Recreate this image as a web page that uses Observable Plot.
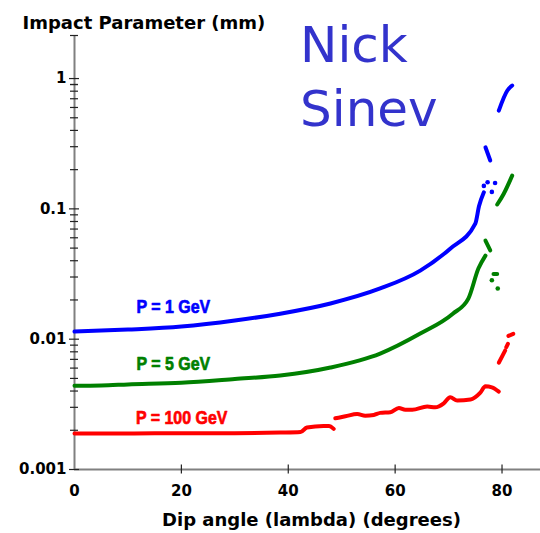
<!DOCTYPE html>
<html><head><meta charset="utf-8">
<script src="https://cdn.jsdelivr.net/npm/d3@7"></script>
<script src="https://cdn.jsdelivr.net/npm/@observablehq/plot@0.6"></script>
<style>
html,body{margin:0;padding:0;background:#fff;}
#chart{width:540px;height:533px;}
</style></head><body><div id="chart"></div>
<script>
// ---- data (dip angle in degrees, impact parameter in mm) ----
const blueSegments = [
  [[0,0.01143],[10,0.01185],[20,0.0125],[30,0.0139],[38.5,0.0157],[47.9,0.0188],[57.2,0.0245],[64.7,0.0336],[70.3,0.0495],[75.0,0.077],[75.7,0.105],[76.6,0.134]],
  [[76.9,0.297],[77.8,0.235]],
  [[79.4,0.568],[81.0,0.81],[81.9,0.884]]
];
const blueDots = [[76.6,0.15],[77.3,0.16],[78.1,0.135],[78.7,0.158]];

const greenSegments = [
  [[0,0.0044],[5,0.00442],[10,0.0045],[20,0.00464],[30,0.00495],[38.5,0.00526],[47.9,0.00606],[57.2,0.00775],[64.7,0.01104],[70.8,0.0157],[73.7,0.0205],[75.6,0.035],[76.9,0.0438]],
  [[76.9,0.0571],[77.8,0.048]],
  [[78.4,0.0316],[79.1,0.0316]],
  [[79.1,0.108],[80.3,0.13],[81.9,0.18]]
];
const greenDots = [[78.1,0.0283],[79.2,0.0245]];

const redSegments = [
  [[0,0.00189],[10,0.00189],[20,0.0019],[30,0.0019],[38.5,0.00192],[42.3,0.00194],[43.5,0.0021],[46.6,0.00216],[47.6,0.00216],[48.5,0.00205]],
  [[48.8,0.00247],[50.7,0.00256],[52.9,0.00267],[54.4,0.00259],[56,0.00262],[57.2,0.00272],[59.1,0.00275],[60.7,0.00297],[61.9,0.00287],[63.2,0.00287],[66,0.00304],[67.5,0.003],[69.1,0.00322],[70.3,0.00358],[71.6,0.00338],[74.1,0.00344],[75.9,0.00387],[76.9,0.00435],[78.1,0.00427],[79.4,0.00396]],
  [[79.4,0.0066],[80.6,0.0082]],
  [[80.8,0.0087],[81.1,0.0092]],
  [[81.2,0.0106],[82.1,0.011]]
];

const seriesLabels = ["P = 1 GeV","P = 5 GeV","P = 100 GeV"];
const labelAngles = [11.6,11.6,11.5];
const labelValues = [0.016,0.00585,0.00225];
const seriesColors = ["#0000ff","#008000","#ff0000"];

const xTicks = [0,20,40,60,80];
const yTicks = [0.001,0.01,0.1,1];
const yTickLabels = ["0.001","0.01","0.1","1"];
const minorMultipliers = [2,3,4,5,6,7,8,9];
const xDomain = [0, 87.2];
const yDomain = [0.001, 2.14];

const titleText = "Impact Parameter (mm)";
const xTitle = "Dip angle (lambda) (degrees)";
const watermark = ["Nick","Sinev"];
const watermarkAngle = [42.2,42.2];
const watermarkValue = [1.34,0.43];

// ---- build ----
function rows(segs){ return segs.flatMap((s,i)=>s.map(([a,v])=>({a,v,seg:i}))); }
const minorTicks = yTicks.slice(0,3).flatMap(d => minorMultipliers.map(m => +(m*d).toPrecision(3))).concat([0.9]).filter(t=>t<1);

const bold = "DejaVu Sans";
const axisGray = "#808080";
const tickColor = "#222";

const lineMark = (segs,color) => Plot.line(rows(segs), {x:"a", y:"v", z:"seg", stroke:color, strokeWidth:4, strokeLinecap:"round", strokeLinejoin:"round", curve:"monotone-x"});
const dotMark = (pts,color) => Plot.dot(pts, {x:d=>d[0], y:d=>d[1], r:2.3, fill:color, stroke:null});

const chart = Plot.plot({
  width: 540, height: 533,
  marginLeft: 74, marginRight: 0, marginTop: 35, marginBottom: 64,
  style: {background:"#fff", overflow:"visible"},
  x: {domain: xDomain, axis: null},
  y: {type:"log", domain: yDomain, axis: null},
  marks: [
    // axis lines
    Plot.ruleX([xDomain[0]], {stroke: axisGray, strokeWidth: 2}),
    Plot.ruleY([yDomain[0]], {stroke: axisGray, strokeWidth: 2}),
    // y ticks crossing the axis
    Plot.ruleY(yTicks, {y: d=>d, x1: xDomain[0], x2: xDomain[0], insetLeft: -5, insetRight: -5, stroke: tickColor, strokeWidth: 1.2}),
    Plot.ruleY(minorTicks, {y: d=>d, x1: xDomain[0], x2: xDomain[0], insetLeft: -4, insetRight: -4, stroke: tickColor, strokeWidth: 1.2}),
    Plot.ruleY([yDomain[1]], {y: d=>d, x1: xDomain[0], x2: xDomain[0], insetLeft: -4, insetRight: -4, stroke: tickColor, strokeWidth: 1.2}),
    Plot.text(yTicks, {y: d=>d, x: xDomain[0], text: (d,i)=>yTickLabels[i], textAnchor:"end", dx:-8, fontFamily: bold, fontWeight:"bold", fontSize: 15, fill:"#000"}),
    // x ticks crossing the axis
    Plot.ruleX(xTicks.slice(1), {x: d=>d, y1: yDomain[0], y2: yDomain[0], insetTop: -4.5, insetBottom: -4.5, stroke: tickColor, strokeWidth: 1.2}),
    Plot.text(xTicks, {x: d=>d, y: yDomain[0], text: d=>String(d), lineAnchor:"top", dy:16, fontFamily: bold, fontWeight:"bold", fontSize: 15, fill:"#000"}),
    // curves
    lineMark(redSegments, seriesColors[2]),
    lineMark(greenSegments, seriesColors[1]),
    dotMark(greenDots, seriesColors[1]),
    lineMark(blueSegments, seriesColors[0]),
    dotMark(blueDots, seriesColors[0]),
    // series labels
    Plot.text(seriesLabels, {x: (d,i)=>labelAngles[i], y: (d,i)=>labelValues[i], text: d=>d, fill: (d,i)=>seriesColors[i], stroke: (d,i)=>seriesColors[i], strokeWidth: 0.7, textAnchor:"start", lineAnchor:"bottom", fontFamily:"'Liberation Sans', Arial, sans-serif", fontWeight:"bold", fontSize: 19}),
    // watermark
    Plot.text(watermark, {x: (d,i)=>watermarkAngle[i], y: (d,i)=>watermarkValue[i], text: d=>d, fill:"#3333cc", textAnchor:"start", lineAnchor:"bottom", fontFamily:"'Comic Sans MS', 'DejaVu Sans'", fontSize: 50}),
    // titles
    Plot.text([titleText], {frameAnchor:"top-left", text: d=>d, dx:-52, dy:-7, textAnchor:"start", lineAnchor:"bottom", fontFamily: bold, fontWeight:"bold", fontSize: 18, fill:"#000"}),
    Plot.text([xTitle], {frameAnchor:"bottom", text: d=>d, dx:4, dy:56, lineAnchor:"bottom", fontFamily: bold, fontWeight:"bold", fontSize: 18, fill:"#000"})
  ]
});
// condense the series labels horizontally (narrow bold face in the reference)
d3.select(chart).selectAll("text").filter(function(){
  return seriesLabels.includes(this.textContent);
}).each(function(){
  const t = this.getAttribute("transform") || "";
  this.setAttribute("transform", t + " scale(0.84,1)");
});
document.getElementById("chart").appendChild(chart);
</script>
</body></html>
